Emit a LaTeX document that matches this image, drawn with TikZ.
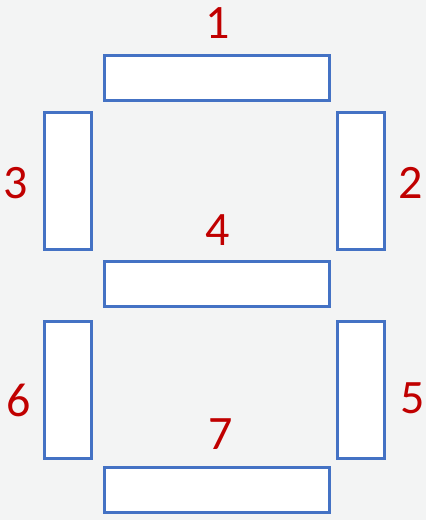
\documentclass[tikz,border=0pt]{standalone}
\usepackage{fontspec}
\setmainfont{Carlito}
\usetikzlibrary{positioning}
\definecolor{cBack}{RGB}{243,244,244}
\definecolor{cSeg}{RGB}{68,114,196}
\definecolor{cNum}{RGB}{192,0,0}
\tikzset{
  hseg/.style={
    rectangle, draw=cSeg, fill=white, line width=3pt,
    minimum width=225pt, minimum height=45pt, inner sep=0pt,
  },
  vseg/.style={
    rectangle, draw=cSeg, fill=white, line width=3pt,
    minimum width=47pt, minimum height=137pt, inner sep=0pt,
  },
  digit/.style={
    text=cNum, inner sep=0pt, outer sep=0pt,
    font=\fontsize{48}{48}\selectfont,
  },
}
\begin{document}
\begin{tikzpicture}[x=1pt, y=1pt]

\fill[cBack] (0,0) rectangle (426,520);
\useasboundingbox (0,0) rectangle (426,520);

% segments
\node[hseg] (seg1) at (216.5,441.5) {};
\node[vseg] (seg3) at (68,338.5) {};
\node[vseg] (seg2) at (361,338.5) {};
\node[hseg] (seg4) at (216.5,235.5) {};
\node[vseg] (seg6) at (68,130) {};
\node[vseg] (seg5) at (361,130) {};
\node[hseg] (seg7) at (216.5,29.5) {};

% numbers
\node[digit, above=16pt of seg1, xshift=1pt] (num1) {1};
\node[digit, right=12.5pt of seg2, yshift=-1.5pt] (num2) {2};
\node[digit, left=15.5pt of seg3, yshift=-1.5pt] (num3) {3};
\node[digit, above=15pt of seg4, xshift=1pt] (num4) {4};
\node[digit, right=14.5pt of seg5, yshift=-8pt] (num5) {5};
\node[digit, left=12.5pt of seg6, yshift=-10pt] (num6) {6};
\node[digit, above=17pt of seg7, xshift=4pt] (num7) {7};

\end{tikzpicture}
\end{document}
